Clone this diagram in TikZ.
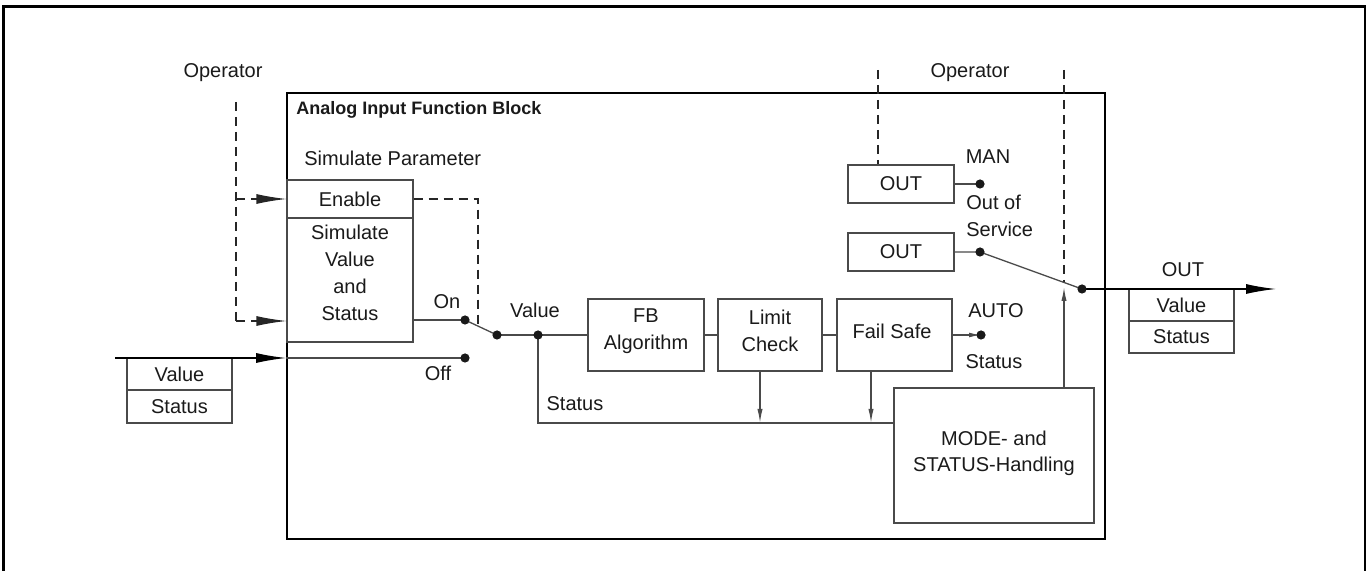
\documentclass[tikz,border=0pt]{standalone}
\usepackage{fontspec}
\setmainfont{Liberation Sans}
\usetikzlibrary{arrows.meta}
\definecolor{linec}{HTML}{4A4A4A}
\definecolor{txtc}{HTML}{1A1A1A}
\begin{document}
\begin{tikzpicture}[x=0.5pt,y=-0.5pt,
  every node/.style={text=txtc, font=\fontsize{10pt}{13.5pt}\selectfont},
  txt/.style={inner sep=0pt, align=center},
  box/.style={draw=linec, line width=0.6pt, inner sep=0pt, align=center},
  ln/.style={draw=linec, line width=0.65pt},
  blk/.style={draw=black, line width=0.7pt},
  dsh/.style={draw=black!85, line width=0.6pt, dash pattern=on 4.5pt off 3pt},
  bigarrow/.style={-{Latex[length=15pt,width=5pt]}},
  smallarrow/.style={-{Latex[length=7pt,width=2.6pt]}},
  tinyarrow/.style={-{Latex[length=6pt,width=2.4pt]}},
  dot/.style={fill=black!90}
]
\useasboundingbox (0,0) rectangle (1372,571);
% outer frame
\draw[line width=1.3pt] (3.5,580) -- (3.5,6.5) -- (1365,6.5) -- (1365,580);

% main block
\node[draw=black, line width=0.8pt, minimum width=409pt, minimum height=223pt, inner sep=0pt] (main) at (696,316) {};
\node[txt, anchor=west, font=\bfseries\fontsize{9pt}{11pt}\selectfont] (title) at (296,110) {Analog Input Function Block};
\node[txt, anchor=west] (simparam) at (304,158) {Simulate Parameter};

% simulate boxes
\node[box, minimum width=63pt, minimum height=19pt] (enable) at (350,199) {Enable};
\node[box, minimum width=63pt, minimum height=62pt] (sim) at (350,280) {};
\node[txt] (simtxt) at (350,273) {Simulate\\Value\\and\\Status};

% input box
\node[box, minimum width=52.5pt, minimum height=16pt] (inval) at (179.5,374) {Value};
\node[box, minimum width=52.5pt, minimum height=16.5pt] (instat) at (179.5,406.5) {Status};

% processing boxes
\node[box, minimum width=58pt, minimum height=36pt] (fb) at (646,335) {};
\node[txt] (fbtxt) at (646,331) {FB\\Algorithm};
\node[box, minimum width=52pt, minimum height=36pt] (lim) at (770,335) {};
\node[txt] (limtxt) at (770,331) {Limit\\Check};
\node[box, minimum width=57.5pt, minimum height=36pt] (fs) at (894.5,335) {};
\node[txt] (fstxt) at (892,331) {Fail Safe};
\node[box, minimum width=100pt, minimum height=67.5pt] (mode) at (994,455.5) {};
\node[txt, font=\fontsize{10pt}{13pt}\selectfont] (modetxt) at (994,453) {MODE- and\\STATUS-Handling};

% OUT boxes
\node[box, minimum width=53pt, minimum height=19pt] (outman) at (901,184) {OUT};
\node[box, minimum width=53pt, minimum height=19pt] (outoos) at (901,252) {OUT};

% output box
\node[box, minimum width=52.5pt, minimum height=16pt] (outval) at (1181.5,305) {Value};
\node[box, minimum width=52.5pt, minimum height=16pt] (outstat) at (1181.5,337) {Status};

% labels
\node[txt] (op1) at (223,73) {Operator};
\node[txt] (op2) at (970,73) {Operator};
\node[txt] (onl) at (447,302) {On};
\node[txt] (offl) at (438,373) {Off};
\node[txt] (vall) at (535,310) {Value};
\node[txt] (statl) at (575,404) {Status};
\node[txt] (autol) at (996,311) {AUTO};
\node[txt] (stat2l) at (994,362) {Status};
\node[txt] (manl) at (988,157) {MAN};
\node[txt, anchor=west, align=left] (oosl) at (966,216) {Out of\\Service};
\node[txt] (outl) at (1183,270) {OUT};

% coordinates
\coordinate (ondot) at (465,320);
\coordinate (offdot) at (465,358);
\coordinate (pivot) at (497,335);
\coordinate (vdot) at (538,335);
\coordinate (statY) at (538,423);
\coordinate (autodot) at (981,335);
\coordinate (mandot) at (980,184);
\coordinate (oosdot) at (980,252);
\coordinate (pivot2) at (1082,289);
\coordinate (outtip) at (1276,289);
\coordinate (inS) at (115,358);
\coordinate (opL) at (236,102);
\coordinate (cornEn) at (236,199);
\coordinate (cornSim) at (236,321);
\coordinate (enC) at (478,199);
\coordinate (armP) at (478,326);
\coordinate (opM) at (878,70);
\coordinate (opR) at (1064,70);
\coordinate (opRend) at (1064,283);
\coordinate (modeUp) at (1064,287);

% dashed operator lines
\draw[dsh] (opL) -- (cornSim);
\draw[dsh, bigarrow] (cornEn) -- (enable.west);
\draw[dsh, bigarrow] (cornSim) -- (sim.west |- cornSim);
\draw[dsh] (enable.east) -- (enC) -- (armP);
\draw[dsh] (opM) -- (opM |- outman.north);
\draw[dsh] (opR) -- (opRend);

% input
\draw[blk, bigarrow] (inS) -- (main.west |- inS);
\draw[ln] (main.west |- inS) -- (offdot);
\draw[ln] (sim.east |- ondot) -- (ondot);
\draw[ln] (ondot) -- (pivot);
\draw[ln] (pivot) -- (vdot) -- (fb.west);
\draw[ln] (fb.east) -- (lim.west);
\draw[ln] (lim.east) -- (fs.west);
\draw[ln] (vdot) -- (statY) -- (mode.west |- statY);
\draw[ln, smallarrow] ([xshift=-5pt]lim.south) -- ([xshift=-5pt]lim.south |- statY);
\draw[ln, smallarrow] ([xshift=-11.75pt]fs.south) -- ([xshift=-11.75pt]fs.south |- statY);
\draw[ln, tinyarrow] (fs.east) -- (autodot);
\draw[ln, smallarrow] (modeUp |- mode.north) -- (modeUp);
\draw[ln] (outman.east) -- (mandot);
\draw[ln] (outoos.east) -- (oosdot) -- (pivot2);
\draw[blk, bigarrow] (pivot2) -- (outtip);

% dots
\foreach \p in {ondot,offdot,pivot,vdot,autodot,mandot,oosdot,pivot2}
  \fill[dot] (\p) circle[radius=2.3pt];
\end{tikzpicture}
\end{document}
